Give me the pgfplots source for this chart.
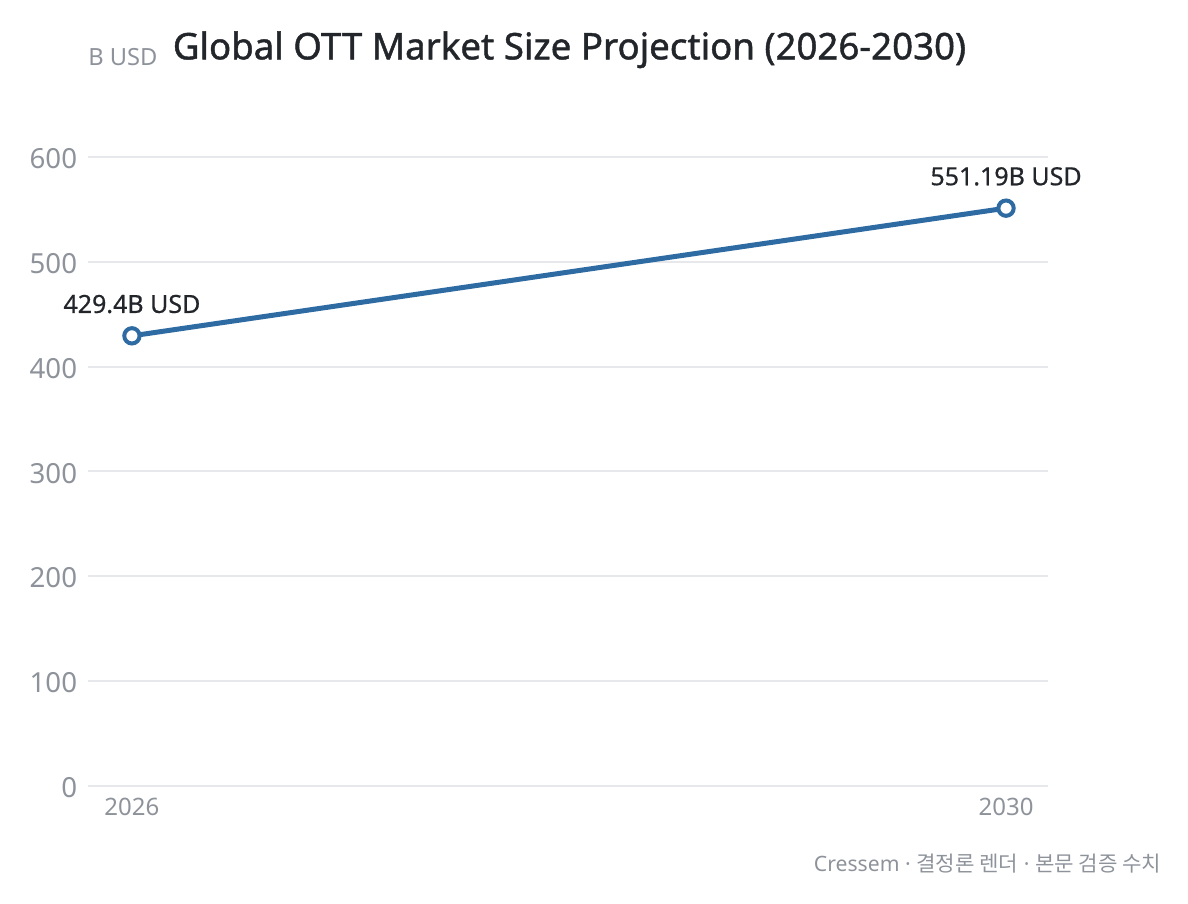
\documentclass[border=0pt]{standalone}
\usepackage{pgfplots}
\pgfplotsset{compat=1.18}
\usepackage{fontspec}
\setmainfont{Noto Sans}
\newfontfamily\cjk{Noto Sans CJK KR}
\newfontfamily\semib[FakeBold=1.2]{Noto Sans}
\newfontfamily\lbl[FakeBold=0.6]{Noto Sans}
\definecolor{lineblue}{HTML}{2E6BA3}
\definecolor{gridgray}{HTML}{E6E8EB}
\definecolor{ticktext}{HTML}{8E939B}
\definecolor{darktext}{HTML}{22252A}
\begin{document}
\begin{tikzpicture}
\path[use as bounding box] (-52.8pt,-70.8pt) rectangle (660pt,471.6pt);
\begin{axis}[
  at={(0pt,0pt)}, anchor=south west,
  scale only axis, width=576pt, height=377.4pt,
  xmin=2025.799, xmax=2030.192,
  ymin=0, ymax=600,
  xtick={2026,2030}, ytick={0,100,...,600},
  axis line style={draw=none},
  major tick length=0pt,
  ymajorgrids, grid style={gridgray, line width=1.2pt},
  tick label style={text=ticktext},
  xticklabel style={font=\fontsize{14.4}{16}\selectfont, yshift=-3.5pt},
  yticklabel style={font=\fontsize{16.6}{18}\selectfont, xshift=-3pt, yshift=-1pt},
  /pgf/number format/assume math mode=true,
  /pgf/number format/1000 sep={},
  clip=false,
]
\addplot[lineblue, line width=3pt, mark=*, mark size=4.6pt,
  mark options={fill=white, draw=lineblue, line width=2.4pt},
  nodes near coords, point meta=explicit symbolic,
  every node near coord/.style={text=darktext, font=\lbl\fontsize{15}{17}\selectfont, yshift=9pt}]
  coordinates {(2026,429.4) [429.4B USD] (2030,551.19) [551.19B USD]};
\end{axis}
\node[anchor=base west, text=ticktext, font=\fontsize{14.2}{16}\selectfont, inner sep=0pt] at (0pt,432pt) {B USD};
\node[anchor=base, text=darktext, font=\semib\fontsize{22}{26}\selectfont, inner sep=0pt] at (288.9pt,436pt) {Global OTT Market Size Projection (2026-2030)};
\node[anchor=base east, text=ticktext, font=\fontsize{12.7}{14}\selectfont, inner sep=0pt] at (644.2pt,-51.6pt) {Cressem · {\cjk 결정론 렌더} · {\cjk 본문 검증 수치}};
\end{tikzpicture}
\end{document}
